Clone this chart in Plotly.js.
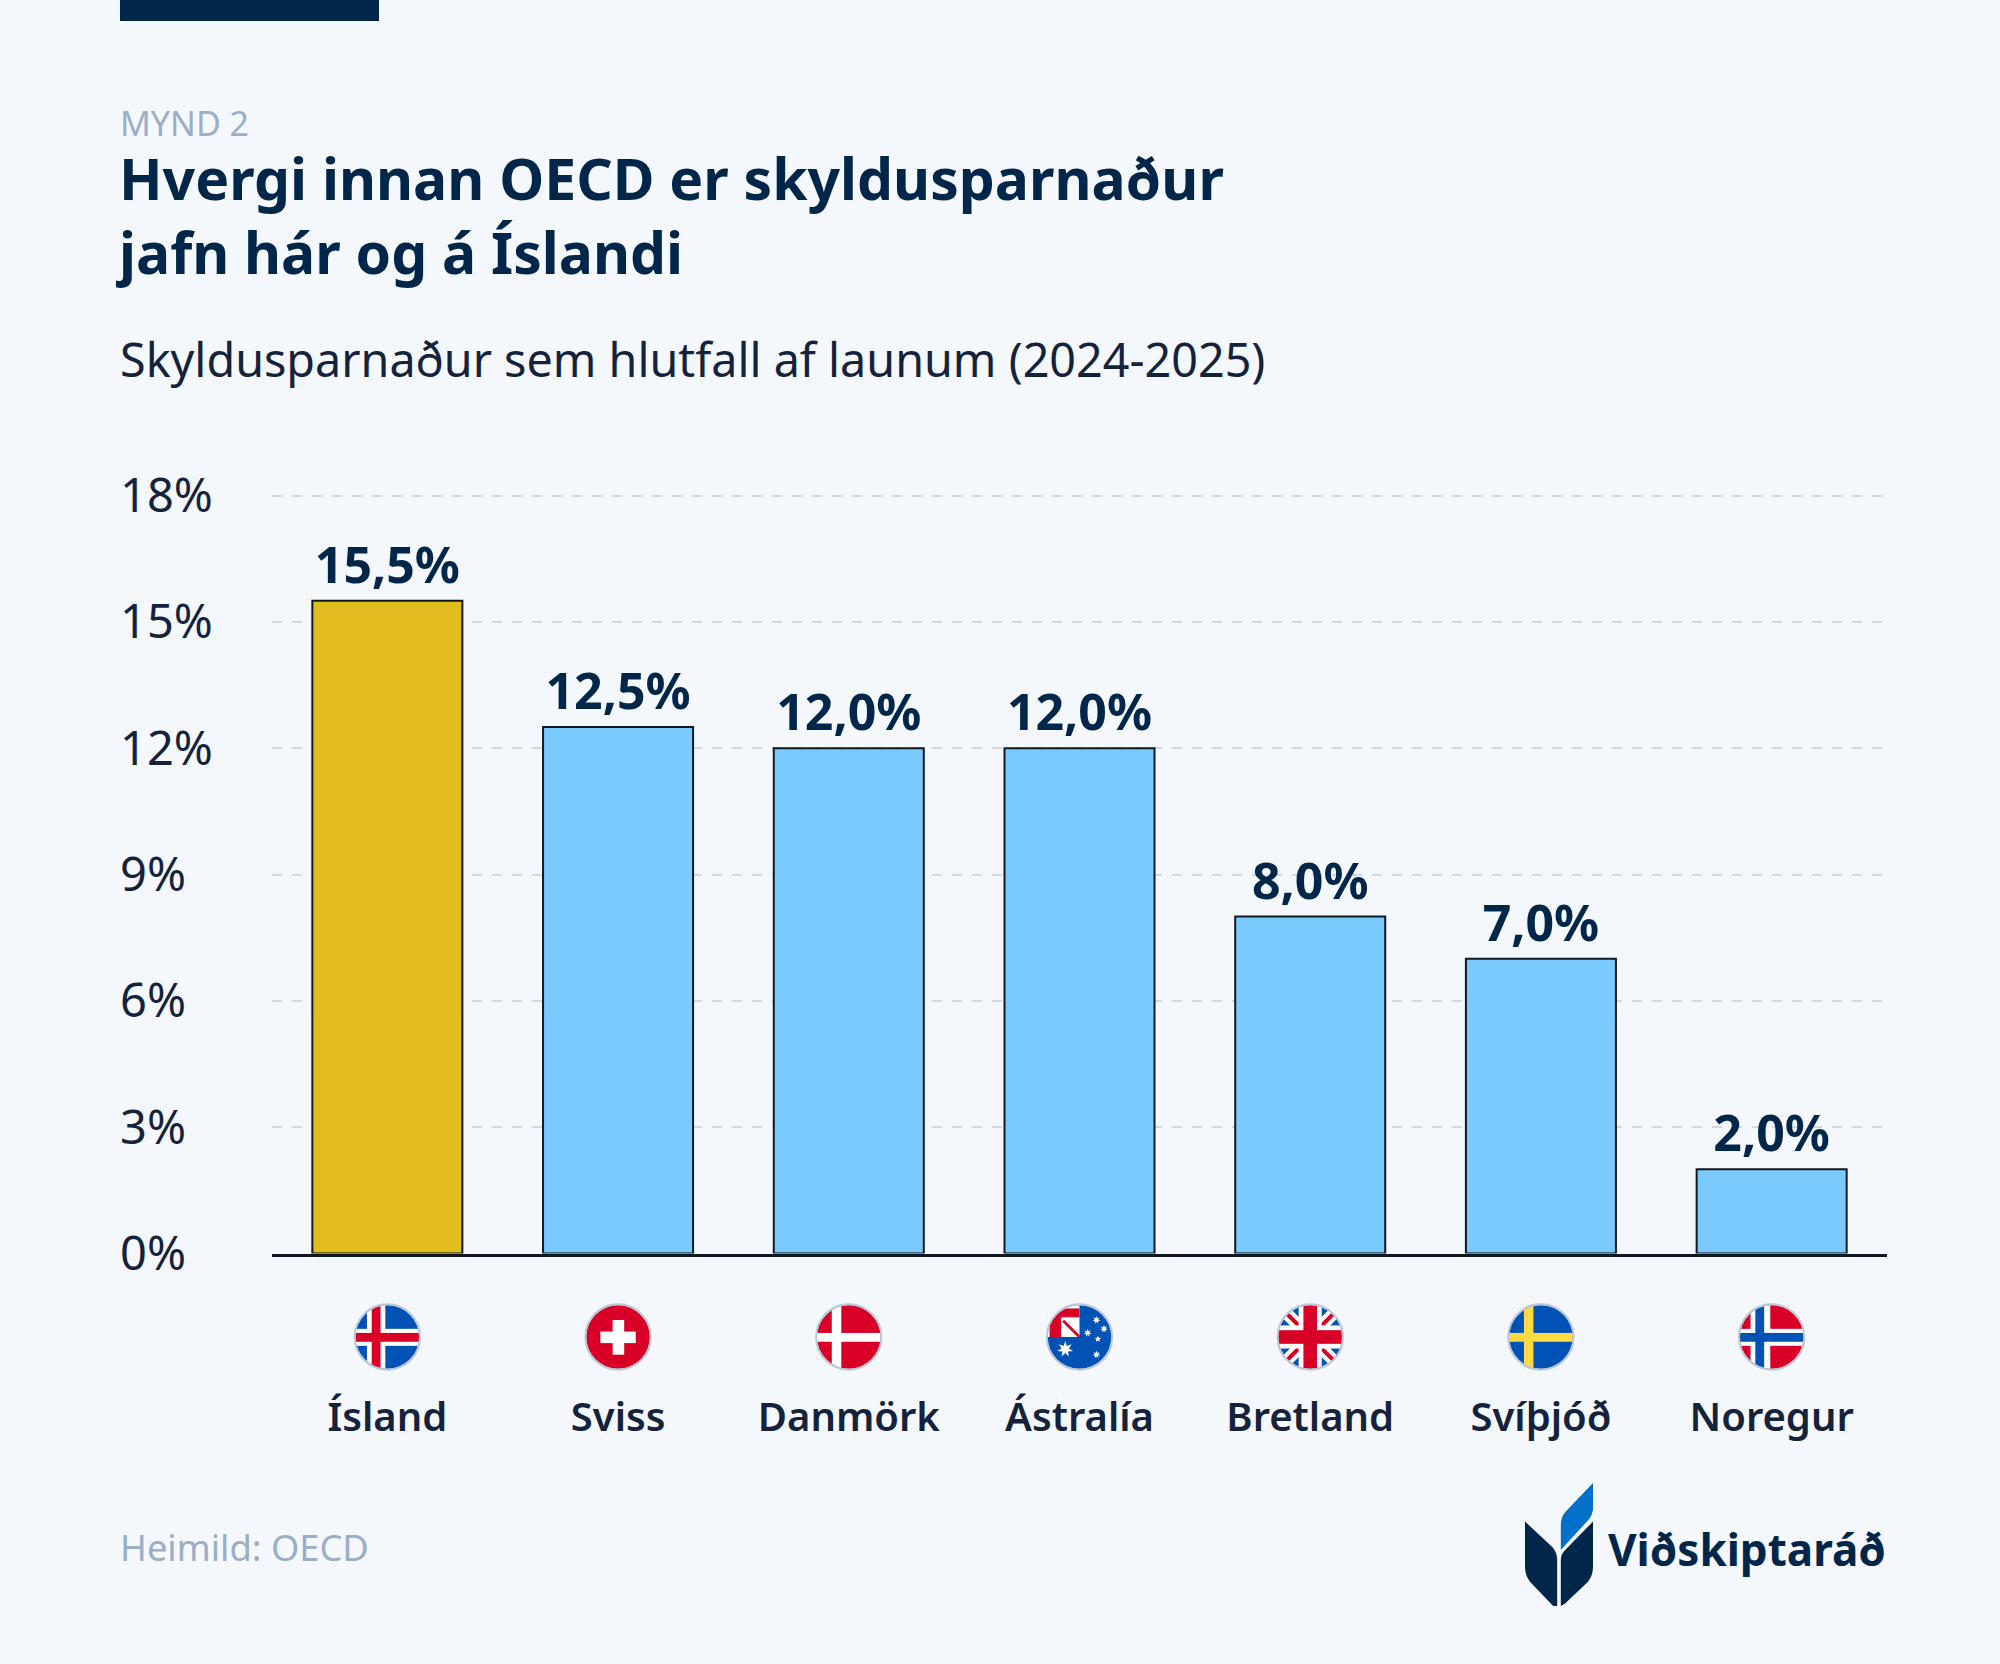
<!DOCTYPE html>
<html>
<head>
<meta charset="utf-8">
<script src="https://cdn.plot.ly/plotly-3.0.1.min.js"></script>
<style>
  html, body { margin: 0; padding: 0; background: #f4f7fc; }
</style>
</head>
<body>
<div id="chart" style="width:2000px;height:1664px"></div>
<script>
const countries = ["Ísland", "Sviss", "Danmörk", "Ástralía", "Bretland", "Svíþjóð", "Noregur"];
const saving = [15.5, 12.5, 12.0, 12.0, 8.0, 7.0, 2.0];
const barColors = ["#e0bc1e", "#7bcaff", "#7bcaff", "#7bcaff", "#7bcaff", "#7bcaff", "#7bcaff"];
const yTicks = [0, 3, 6, 9, 12, 15, 18];
const yTickText = ["0%", "3%", "6%", "9%", "12%", "15%", "18%"];

const W = 2000;
const H = 1664;
const navy = "#00264a";
const ink = "#14233b";
const muted = "#9aaec6";
const font = "Noto Sans";

const px = (x) => x / W;
const py = (y) => 1 - y / H;

// Hringlaga fánar sem svg
function flagSvg(inner) {
  const svg =
    `<svg xmlns="http://www.w3.org/2000/svg" viewBox="0 0 100 100" width="200" height="200">` +
    `<defs><clipPath id="c"><circle cx="50" cy="50" r="47"/></clipPath></defs>` +
    `<g clip-path="url(#c)">${inner}</g>` +
    `<circle cx="50" cy="50" r="48" fill="none" stroke="#b9c6d8" stroke-width="3"/></svg>`;
  return "data:image/svg+xml;charset=utf-8," + encodeURIComponent(svg);
}

function r(x, y, w, h, c) {
  return `<rect x="${x}" y="${y}" width="${w}" height="${h}" fill="${c}"/>`;
}

function star(cx, cy, rad, n = 7) {
  const pts = [];
  for (let i = 0; i < n * 2; i++) {
    const a = (Math.PI * i) / n - Math.PI / 2;
    const d = i % 2 ? rad * 0.45 : rad;
    pts.push(`${(cx + d * Math.cos(a)).toFixed(1)},${(cy + d * Math.sin(a)).toFixed(1)}`);
  }
  return `<polygon points="${pts.join(" ")}" fill="#fff"/>`;
}

const BLUE = "#0052b4";
const RED = "#d80027";
const flags = [
  r(0, 0, 100, 100, BLUE) + r(20, 0, 27, 100, "#fff") + r(0, 38, 100, 25, "#fff") + r(27, 0, 13, 100, RED) + r(0, 44, 100, 13, RED),
  r(0, 0, 100, 100, RED) + r(42, 25, 17, 51, "#fff") + r(24, 42, 52, 17, "#fff"),
  r(0, 0, 100, 100, RED) + r(25, 0, 14, 100, "#fff") + r(0, 44, 100, 13, "#fff"),
  r(0, 0, 100, 100, BLUE) + r(0, 0, 50, 50, "#fff") + r(6, 8, 17, 42, RED) + r(6, 8, 44, 13, RED) +
    `<path d="M26 26 L50 50" stroke="${RED}" stroke-width="4"/>` +
    star(29, 68, 12) + star(75, 25, 6) + star(62, 44, 6) + star(86, 38, 6) + star(77, 53, 5, 5) + star(75, 76, 6),
  r(0, 0, 100, 100, BLUE) +
    `<path d="M0 0 L100 100 M100 0 L0 100" stroke="#fff" stroke-width="18"/>` +
    `<path d="M0 0 L100 100 M100 0 L0 100" stroke="${RED}" stroke-width="6"/>` +
    r(33, 0, 34, 100, "#fff") + r(0, 33, 100, 34, "#fff") + r(40, 0, 20, 100, RED) + r(0, 40, 100, 20, RED),
  r(0, 0, 100, 100, BLUE) + r(25, 0, 14, 100, "#ffda44") + r(0, 44, 100, 13, "#ffda44"),
  r(0, 0, 100, 100, RED) + r(19, 0, 29, 100, "#fff") + r(0, 38, 100, 25, "#fff") + r(26, 0, 13, 100, BLUE) + r(0, 44, 100, 13, BLUE),
];

const logoSvg =
  `<svg xmlns="http://www.w3.org/2000/svg" viewBox="135 70 205 367" width="410" height="734">` +
  `<path fill="#00264a" d="M135 185 L218 262 Q232 278 232 300 L232 437 L220 437 L150 365 Q135 345 135 320 Z"/>` +
  `<path fill="#00264a" d="M340 185 L340 320 Q340 345 325 365 L255 430 L243 437 L243 300 Q243 283 256 270 Z"/>` +
  `<path fill="#0270c9" d="M340 70 L340 150 Q338 165 328 178 L243 270 L243 195 Q243 170 258 155 Z"/></svg>`;

const trace = {
  type: "bar",
  x: countries,
  y: saving,
  width: 150 / 230.7,
  marker: { color: barColors, line: { color: "#111820", width: 2 } },
  text: saving.map((v) => v.toFixed(1).replace(".", ",") + "%"),
  textposition: "outside",
  cliponaxis: false,
  textfont: { family: font, size: 50, weight: 700, color: navy },
  hoverinfo: "x+y",
};

function note(text, x, y, size, color, weight, xanchor = "left") {
  return {
    text: text,
    xref: "paper",
    yref: "paper",
    x: px(x),
    y: py(y),
    xanchor: xanchor,
    yanchor: "bottom",
    showarrow: false,
    borderpad: 0,
    align: "left",
    font: { family: font, size: size, color: color, weight: weight },
  };
}

const layout = {
  width: W,
  height: H,
  margin: { t: 0, r: 0, b: 0, l: 0 },
  autosize: false,
  showlegend: false,
  paper_bgcolor: "#f4f7fc",
  plot_bgcolor: "rgba(0,0,0,0)",
  bargap: 0.35,
  title: {
    text: "Hvergi innan OECD er skyldusparnaður<br>jafn hár og á Íslandi",
    x: px(119),
    xref: "paper",
    xanchor: "left",
    y: py(200),
    yref: "paper",
    yanchor: "top",
    font: { family: font, size: 57, weight: 700, color: navy },
  },
  xaxis: {
    domain: [px(272), px(1887)],
    range: [-0.5, 6.5],
    type: "category",
    categoryorder: "array",
    categoryarray: countries,
    showgrid: false,
    zeroline: false,
    showline: true,
    linecolor: "#111820",
    linewidth: 3,
    ticks: "",
    ticklabelstandoff: 126,
    tickfont: { family: font, size: 40, weight: 600, color: ink },
    fixedrange: true,
  },
  yaxis: {
    // efsta línan hverfur ef hún lendir nákvæmlega á enda ássins
    domain: [py(1253.5), py(493.4)],
    range: [0, 18.05],
    anchor: "free",
    position: px(116),
    tickmode: "array",
    tickvals: yTicks,
    ticktext: yTickText,
    ticklabelposition: "inside",
    ticklabeloverflow: "allow",
    tickfont: { family: font, size: 47, color: ink },
    showline: false,
    zeroline: false,
    showgrid: true,
    gridcolor: "#cfd8e3",
    gridwidth: 2,
    griddash: "10px,10px",
    ticks: "",
    fixedrange: true,
  },
  shapes: [
    { type: "rect", xref: "paper", yref: "paper", x0: px(120), x1: px(379), y0: py(21), y1: py(0), fillcolor: navy, line: { width: 0 } },
  ],
  annotations: [
    note("MYND 2", 119, 147, 34, muted, 400),
    note("Skyldusparnaður sem hlutfall af launum (2024-2025)", 119, 392, 46.7, ink, 400),
    note("Heimild: OECD", 119, 1573, 36.3, muted, 400),
    note("Viðskiptaráð", 1887, 1580, 44, navy, 700, "right"),
  ],
  images: [
    ...flags.map((f, i) => ({
      source: flagSvg(f),
      xref: "x",
      yref: "paper",
      x: i,
      y: py(1337),
      sizex: 68 / 230.7,
      sizey: 68 / H,
      xanchor: "center",
      yanchor: "middle",
      sizing: "contain",
      layer: "above",
    })),
    {
      source: "data:image/svg+xml;charset=utf-8," + encodeURIComponent(logoSvg),
      xref: "paper",
      yref: "paper",
      x: px(1525),
      y: py(1483),
      sizex: 68 / W,
      sizey: 123 / H,
      xanchor: "left",
      yanchor: "top",
      sizing: "stretch",
      layer: "above",
    },
  ],
};

Plotly.newPlot("chart", [trace], layout, { displayModeBar: false, staticPlot: true });
</script>
</body>
</html>
